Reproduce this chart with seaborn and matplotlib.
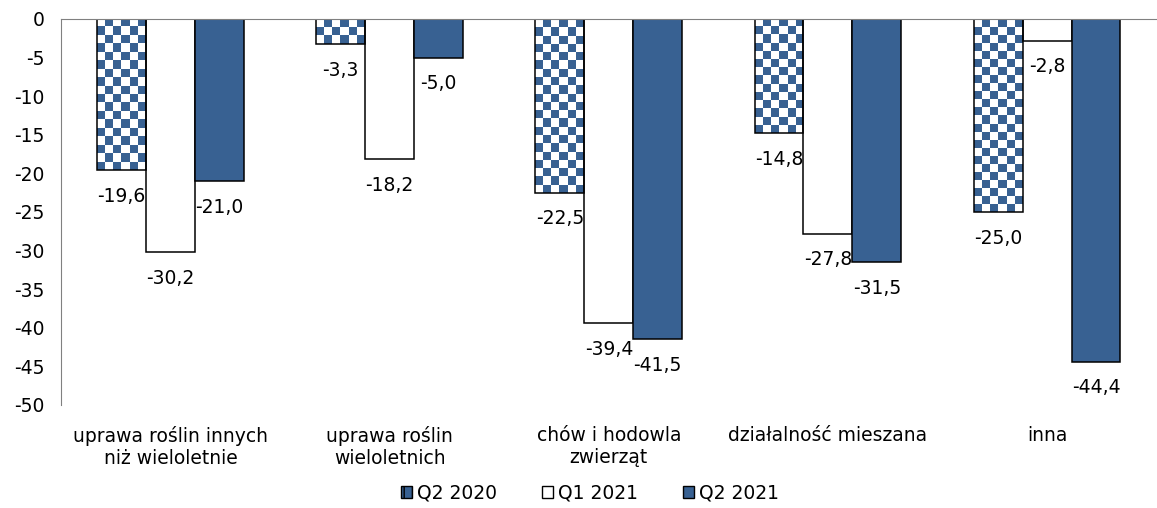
import numpy as np
import pandas as pd
import matplotlib
matplotlib.use("Agg")
import matplotlib.pyplot as plt
from matplotlib.colors import ListedColormap
from matplotlib.patches import Patch
import seaborn as sns

categories = ["uprawa roślin innych\nniż wieloletnie", "uprawa roślin\nwieloletnich",
              "chów i hodowla\nzwierząt", "działalność mieszana", "inna"]
series = ["Q2 2020", "Q1 2021", "Q2 2021"]
q2_2020 = [-19.6, -3.3, -22.5, -14.8, -25.0]
q1_2021 = [-30.2, -18.2, -39.4, -27.8, -2.8]
q2_2021 = [-21.0, -5.0, -41.5, -31.5, -44.4]

blue = "#386192"

df = pd.DataFrame({
    "kategoria": categories * 3,
    "okres": [s for s in series for _ in categories],
    "wartosc": q2_2020 + q1_2021 + q2_2021,
})

sns.set_style("white")
plt.rcParams["font.family"] = ["DejaVu Sans"]
plt.rcParams["axes.unicode_minus"] = False
plt.rcParams["text.color"] = "black"
plt.rcParams["xtick.color"] = "black"
plt.rcParams["ytick.color"] = "black"

fs = 13.5

fig = plt.figure(figsize=(11.57, 5.08), dpi=100)
ax = fig.add_axes([0.0527, 0.203, 0.947, 0.7597])

sns.barplot(data=df, x="kategoria", y="wartosc", hue="okres", hue_order=series,
            palette=["white", "white", blue], saturation=1, width=0.67,
            edgecolor="black", linewidth=1.1, ax=ax, legend=False)

ax.set_ylim(-50, 0)
ax.set_xlim(-0.5, 4.5)

# checkered fill for Q2 2020 bars
checker_cmap = ListedColormap(["white", blue])
n_cat = len(categories)
for p in ax.patches[:n_cat]:
    x0 = p.get_x()
    w = p.get_width()
    h = p.get_height()
    nx = 6
    ny = max(1, int(round(abs(h) * 7.72 / 8.2)))
    yy, xx = np.indices((ny, nx))
    img = (xx + yy) % 2
    im = ax.imshow(img, cmap=checker_cmap, extent=[x0, x0 + w, h, 0],
                   interpolation="nearest", aspect="auto", zorder=p.get_zorder() - 0.1,
                   origin="upper")
    im.set_clip_path(p)
    p.set_facecolor("none")
    p.set_zorder(p.get_zorder() + 0.5)

# value labels
all_vals = q2_2020 + q1_2021 + q2_2021
for p, v in zip(ax.patches, all_vals):
    ax.annotate(f"{v:.1f}".replace(".", ","),
                (p.get_x() + p.get_width() / 2, v), xytext=(0, -12),
                textcoords="offset points", ha="center", va="top", fontsize=fs)

ax.set_ylim(-50, 0)
ax.set_xlim(-0.5, 4.5)
ax.set_aspect("auto")
ax.set_yticks(range(-50, 1, 5))
ax.set_xlabel("")
ax.set_ylabel("")
ax.tick_params(axis="y", length=0, pad=12, labelsize=fs)
ax.tick_params(axis="x", length=0, pad=15, labelsize=fs)
for s in ["right", "bottom"]:
    ax.spines[s].set_visible(False)
ax.spines["left"].set_color("#808080")
ax.spines["top"].set_color("#808080")

handles = [Patch(facecolor=blue, edgecolor="black", hatch="||"),
           Patch(facecolor="white", edgecolor="black"),
           Patch(facecolor=blue, edgecolor="black")]
fig.legend(handles, series, loc="center", bbox_to_anchor=(0.51, 0.03), ncol=3,
           frameon=False, fontsize=fs, handlelength=0.6, handleheight=0.6,
           handletextpad=0.25, columnspacing=2.4)

fig.savefig("out.png", dpi=100)
